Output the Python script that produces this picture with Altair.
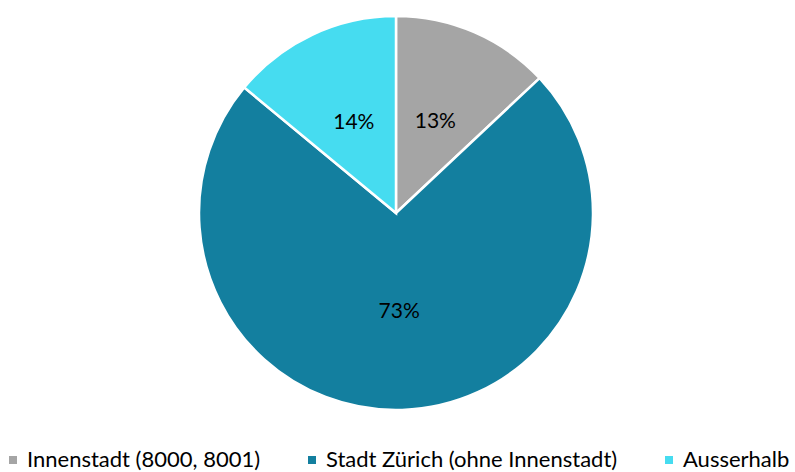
import altair as alt
import pandas as pd

categories = ["Innenstadt (8000, 8001)", "Stadt Zürich (ohne Innenstadt)", "Ausserhalb"]
values = [13, 73, 14]
labels = ["13%", "73%", "14%"]
order = [1, 2, 3]
colors = ["#A5A5A5", "#137F9F", "#46DCF0"]

df = pd.DataFrame({"cat": categories, "val": values, "lab": labels, "ord": order})

FONT = "Lato"

base = alt.Chart(df).encode(
    theta=alt.Theta("val:Q", stack=True),
    order=alt.Order("ord:Q", sort="ascending"),
    x=alt.value(396),
    y=alt.value(213),
)

pie = base.mark_arc(outerRadius=197, stroke="white", strokeWidth=2.5).encode(
    color=alt.Color(
        "cat:N",
        scale=alt.Scale(domain=categories, range=colors),
        sort=categories,
        legend=alt.Legend(
            title=None,
            orient="none",
            direction="horizontal",
            legendX=2,
            legendY=449,
            symbolType="square",
            symbolSize=64,
            symbolStrokeWidth=0,
            symbolOpacity=1,
            labelFont=FONT,
            labelFontSize=22,
            labelColor="#000000",
            labelOffset=3,
            columnPadding=40,
            padding=0,
            labelLimit=400,
        ),
    )
)

text = base.mark_text(radius=99, font=FONT, fontSize=21, color="#000000").encode(
    text="lab:N"
)

chart = (
    (pie + text)
    .properties(
        width=795,
        height=472,
        autosize=alt.AutoSizeParams(type="none"),
        padding=0,
        background="white",
        view=alt.ViewBackground(stroke=None, strokeWidth=0, fill="white"),
    )
)

chart.save("out.html", embed_options={"renderer": "svg", "actions": False})
